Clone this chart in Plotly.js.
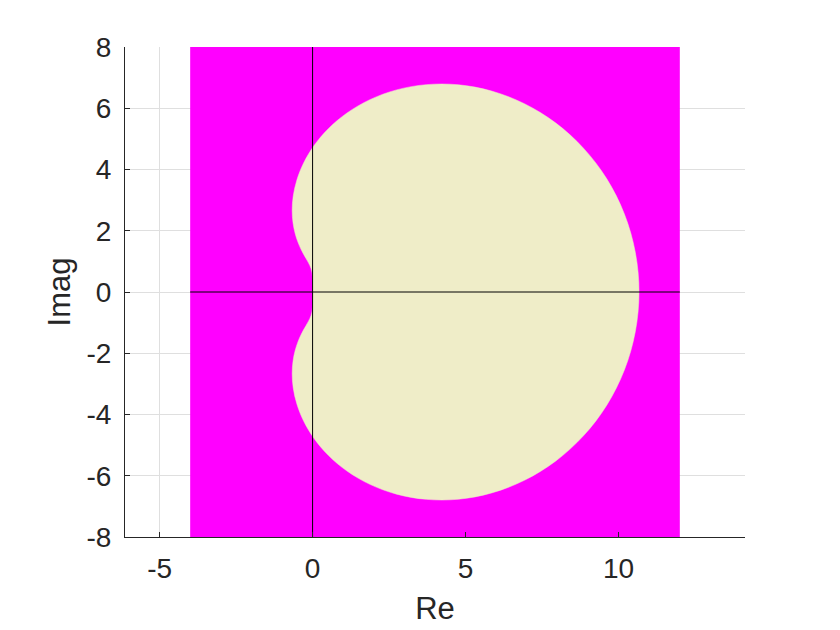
<!DOCTYPE html>
<html>
<head>
<meta charset="utf-8">
<script src="https://cdn.plot.ly/plotly-3.0.1.min.js"></script>
<style>html,body{margin:0;padding:0;background:#fff;}#plot{width:840px;height:630px;}</style>
</head>
<body>
<div id="plot"></div>
<script>
// Outer rectangle (computation window)
const rectRe = [-4, 12, 12, -4, -4];
const rectIm = [-8, -8, 8, 8, -8];

// Boundary of the region, upper half then lower half
const boundRe = [0, 0.000, -0.001, -0.006, -0.028, -0.089, -0.208, -0.291, -0.385, -0.482, -0.572, -0.640, -0.667, -0.633, -0.516, -0.297, 0.042, 0.514, 1.125, 1.872, 2.744, 3.719, 4.767, 5.849, 6.922, 7.939, 8.850, 9.613, 10.188, 10.545, 10.667,
                 10.545, 10.188, 9.613, 8.850, 7.939, 6.922, 5.849, 4.767, 3.719, 2.744, 1.872, 1.125, 0.514, 0.042, -0.297, -0.516, -0.633, -0.667, -0.640, -0.572, -0.482, -0.385, -0.291, -0.208, -0.089, -0.028, -0.006, -0.001, 0.000, 0];
const boundIm = [0, 0.175, 0.348, 0.519, 0.686, 0.862, 1.083, 1.228, 1.410, 1.637, 1.919, 2.261, 2.667, 3.132, 3.650, 4.204, 4.774, 5.332, 5.846, 6.280, 6.600, 6.771, 6.766, 6.562, 6.148, 5.523, 4.697, 3.695, 2.548, 1.300, 0,
                 -1.300, -2.548, -3.695, -4.697, -5.523, -6.148, -6.562, -6.766, -6.771, -6.600, -6.280, -5.846, -5.332, -4.774, -4.204, -3.650, -3.132, -2.667, -2.261, -1.919, -1.637, -1.410, -1.228, -1.083, -0.862, -0.686, -0.519, -0.348, -0.175, 0];

// Axis lines through the window
const realAxisRe = [-4, 12];
const realAxisIm = [0, 0];
const imagAxisRe = [0, 0];
const imagAxisIm = [-8, 8];

// Tick labels
const xTickVals = [-5, 0, 5, 10];
const xTickText = ['-5', '0', '5', '10'];
const yTickVals = [-8, -6, -4, -2, 0, 2, 4, 6, 8];
const yTickText = ['-8', '-6', '-4', '-2', '0', '2', '4', '6', '8'];

const font = 'Liberation Sans, Arial, Helvetica, sans-serif';
const ink = '#262626';

const traces = [
  {x: rectRe, y: rectIm, type: 'scatter', mode: 'lines', fill: 'toself',
   fillcolor: '#ff00ff', line: {width: 0, color: '#ff00ff'}, hoverinfo: 'skip'},
  {x: boundRe, y: boundIm, type: 'scatter', mode: 'lines', fill: 'toself',
   fillcolor: 'rgb(239,237,200)', line: {width: 0.5, color: 'rgb(239,237,200)', shape: 'spline', smoothing: 1}, hoverinfo: 'skip'},
  {x: realAxisRe, y: realAxisIm, type: 'scatter', mode: 'lines', line: {width: 1, color: '#000'}, hoverinfo: 'skip'},
  {x: imagAxisRe, y: imagAxisIm, type: 'scatter', mode: 'lines', line: {width: 1, color: '#000'}, hoverinfo: 'skip'}
];

const layout = {
  width: 840, height: 630,
  margin: {l: 125, r: 95, t: 47, b: 93},
  paper_bgcolor: '#fff', plot_bgcolor: '#fff',
  showlegend: false, hovermode: false,
  font: {family: font, color: ink},
  xaxis: {
    range: [-6.13, 14.13], tickvals: xTickVals, ticktext: xTickText,
    showline: true, linecolor: ink, linewidth: 1, mirror: false,
    ticks: 'inside', ticklen: 5, tickcolor: ink, tickwidth: 1,
    showgrid: true, gridcolor: '#dfdfdf', gridwidth: 1, zeroline: false,
    tickfont: {family: font, size: 28, color: ink}, ticklabelstandoff: 6,
    title: {text: 'Re', font: {family: font, size: 31, color: ink}, standoff: 14}
  },
  yaxis: {
    range: [-8, 8], tickvals: yTickVals, ticktext: yTickText,
    showline: true, linecolor: ink, linewidth: 1, mirror: false,
    ticks: 'inside', ticklen: 5, tickcolor: ink, tickwidth: 1,
    showgrid: true, gridcolor: '#dfdfdf', gridwidth: 1, zeroline: false,
    tickfont: {family: font, size: 28, color: ink}, ticklabelstandoff: 7,
    title: {text: 'Imag', font: {family: font, size: 31, color: ink}, standoff: 6}
  }
};

Plotly.newPlot('plot', traces, layout, {displayModeBar: false, staticPlot: true});
</script>
</body>
</html>
